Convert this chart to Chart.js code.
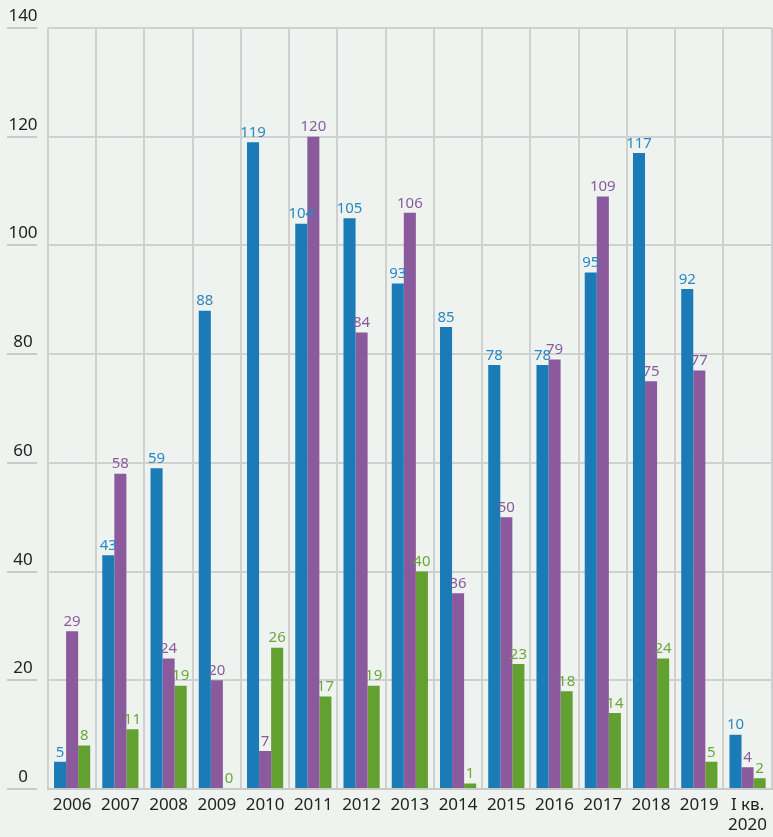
<!DOCTYPE html>
<html>
<head>
<meta charset="utf-8">
<script src="https://cdn.jsdelivr.net/npm/chart.js@4"></script>
<style>
  html, body { margin: 0; padding: 0; background: #eff3f0; }
  #wrap { width: 773px; height: 837px; position: relative; }
</style>
</head>
<body>
<div id="wrap"><canvas id="chart"></canvas></div>
<script>
const years = ['2006','2007','2008','2009','2010','2011','2012','2013','2014','2015','2016','2017','2018','2019',['I кв.','2020']];
const blueValues = [5, 43, 59, 88, 119, 104, 105, 93, 85, 78, 78, 95, 117, 92, 10];
const purpleValues = [29, 58, 24, 20, 7, 120, 84, 106, 36, 50, 79, 109, 75, 77, 4];
const greenValues = [8, 11, 19, 0, 26, 17, 19, 40, 1, 23, 18, 14, 24, 5, 2];
const yTicks = [0, 20, 40, 60, 80, 100, 120, 140];

const FONT = '"Noto Sans", "Open Sans", sans-serif';

// value labels above each bar, in the series colour
const valueLabels = {
  id: 'valueLabels',
  afterDatasetsDraw(chart) {
    const ctx = chart.ctx;
    ctx.save();
    ctx.font = '15px ' + FONT;
    ctx.textAlign = 'center';
    ctx.textBaseline = 'bottom';
    chart.data.datasets.forEach((ds, i) => {
      ctx.fillStyle = ds.labelColor;
      chart.getDatasetMeta(i).data.forEach((bar, j) => {
        ctx.fillText(ds.data[j], bar.x, bar.y - 2);
      });
    });
    ctx.restore();
  }
};

// left labels sit above their grid line, with a short underline
const yLabels = {
  id: 'yLabels',
  afterDraw(chart) {
    const ctx = chart.ctx;
    const y = chart.scales.y;
    ctx.save();
    ctx.font = '17px ' + FONT;
    ctx.fillStyle = '#222';
    ctx.textAlign = 'center';
    ctx.textBaseline = 'bottom';
    ctx.strokeStyle = '#c9cbca';
    ctx.lineWidth = 2;
    yTicks.forEach(v => {
      const py = Math.round(y.getPixelForValue(v));
      ctx.fillText(String(v), 23, py - 3);
      ctx.beginPath();
      ctx.moveTo(7, py);
      ctx.lineTo(37, py);
      ctx.stroke();
    });
    ctx.restore();
  }
};

new Chart(document.getElementById('chart'), {
  type: 'bar',
  data: {
    labels: years,
    datasets: [
      { data: blueValues, backgroundColor: '#1a7bb6', labelColor: '#2a88c4' },
      { data: purpleValues, backgroundColor: '#8a5a9c', labelColor: '#8a5a9c' },
      { data: greenValues, backgroundColor: '#62a030', labelColor: '#6aa83a', minBarLength: 1 }
    ]
  },
  options: {
    responsive: true,
    maintainAspectRatio: false,
    animation: false,
    layout: { padding: { top: 28, right: 0, left: 0, bottom: 0 } },
    categoryPercentage: 0.75,
    barPercentage: 1,
    plugins: { legend: { display: false }, tooltip: { enabled: false } },
    scales: {
      x: {
        afterFit: s => { s.height = 48; },
        grid: { color: '#cfd1d0', lineWidth: 2, drawTicks: false },
        border: { color: '#c9cbca', width: 2 },
        ticks: { color: '#222', font: { family: FONT, size: 17 }, padding: 6, maxRotation: 0, autoSkip: false }
      },
      y: {
        min: 0, max: 140,
        afterFit: s => { s.width = 48; },
        ticks: { display: false, stepSize: 20 },
        grid: { color: '#cfd1d0', lineWidth: 2, drawTicks: false },
        border: { display: false }
      }
    }
  },
  plugins: [valueLabels, yLabels]
});
</script>
</body>
</html>
